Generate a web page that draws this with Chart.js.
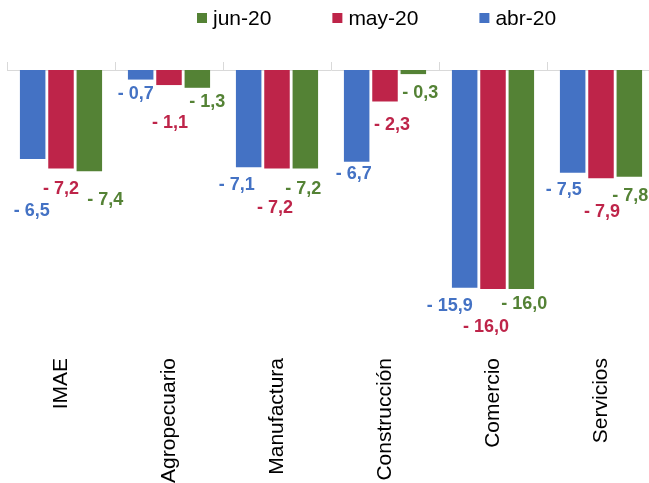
<!DOCTYPE html>
<html>
<head>
<meta charset="utf-8">
<script src="https://cdn.jsdelivr.net/npm/chart.js@4.4.0/dist/chart.umd.min.js"></script>
<style>
    html, body { margin: 0; padding: 0; overflow: hidden; background: #fff; }
    #wrap { width: 649px; height: 483px; overflow: hidden; }
</style>
</head>
<body>
<div id="wrap"><canvas id="myChart" width="700" height="500"></canvas></div>
<script>
const categories = ['IMAE', 'Agropecuario', 'Manufactura', 'Construcción', 'Comercio', 'Servicios'];
const seriesNames = ['abr-20', 'may-20', 'jun-20'];
const abr20 = [-6.5, -0.7, -7.1, -6.7, -15.9, -7.5];
const may20 = [-7.2, -1.1, -7.2, -2.3, -16.0, -7.9];
const jun20 = [-7.4, -1.3, -7.2, -0.3, -16.0, -7.8];
const colors = ['#4472C4', '#BE2449', '#548235'];

// nudges (px) for the value labels so they don't run into each other
const labelDx = [[-1, -5, -12, -3, -15, -9], [0, 1, -2, 7, -7, 1], [16, 10, -2, 7, 3, 1]];
const labelDy = [[52, 14, 18, 12, 18, 17], [20, 38, 39, 24, 38, 34], [29, 14, 20, 19, 15, 19]];

const FONT = '"Liberation Sans", Arial, sans-serif';
Chart.defaults.font.family = FONT;

function formatValue(v) {
    return (v < 0 ? '- ' : '') + Math.abs(v).toFixed(1).replace('.', ',');
}

// legend drawn by hand, newest month first
const topLegend = {
    id: 'topLegend',
    afterDraw(chart) {
        const ctx = chart.ctx;
        ctx.save();
        ctx.font = '21px ' + FONT;
        ctx.textBaseline = 'middle';
        var x = 197;
        for (var i = chart.data.datasets.length - 1; i >= 0; i--) {
            var ds = chart.data.datasets[i];
            ctx.fillStyle = ds.backgroundColor;
            ctx.fillRect(x, 13, 10, 10);
            ctx.fillStyle = '#000';
            ctx.fillText(ds.label, x + 16, 19);
            x += 16 + ctx.measureText(ds.label).width + 61;
        }
        ctx.restore();
    }
};

const valueLabels = {
    id: 'valueLabels',
    afterDatasetsDraw(chart) {
        const ctx = chart.ctx;
        ctx.save();
        ctx.font = 'bold 18px ' + FONT;
        ctx.textAlign = 'center';
        ctx.textBaseline = 'middle';
        chart.data.datasets.forEach(function(ds, i) {
            chart.getDatasetMeta(i).data.forEach(function(bar, j) {
                ctx.fillStyle = ds.backgroundColor;
                ctx.fillText(formatValue(ds.data[j]), bar.x + labelDx[i][j], bar.y + labelDy[i][j]);
            });
        });
        ctx.restore();
    }
};

const ctx = document.getElementById('myChart').getContext('2d');
const myChart = new Chart(ctx, {
    type: 'bar',
    data: {
        labels: categories,
        datasets: [abr20, may20, jun20].map(function(values, i) {
            return {
                label: seriesNames[i],
                data: values,
                backgroundColor: colors[i],
                categoryPercentage: 0.787,
                barPercentage: 0.9
            };
        })
    },
    options: {
        responsive: false,
        animation: false,
        layout: { padding: { left: 7, right: 45, top: 62, bottom: 0 } },
        plugins: {
            legend: { display: false },
            tooltip: { enabled: false }
        },
        scales: {
            x: {
                position: 'bottom',
                grid: { display: false, drawTicks: false },
                border: { display: false },
                ticks: {
                    color: '#000',
                    font: { size: 21 },
                    minRotation: 90,
                    maxRotation: 90,
                    autoSkip: false,
                    padding: 8
                },
                afterFit: function(scale) { scale.height = 150; }
            },
            xTop: {
                type: 'category',
                position: 'top',
                offset: true,
                grid: { display: true, drawOnChartArea: false, offset: true, tickLength: 8, color: '#D9D9D9' },
                border: { color: '#D9D9D9' },
                ticks: { display: false },
                afterFit: function(scale) { scale.height = 8; }
            },
            y: {
                display: false,
                min: -20.45,
                max: 0
            }
        }
    },
    plugins: [topLegend, valueLabels]
});
</script>
</body>
</html>
